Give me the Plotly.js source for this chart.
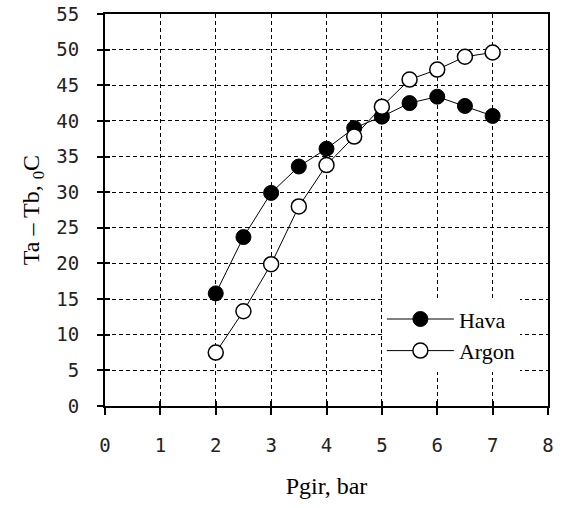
<!DOCTYPE html>
<html>
<head>
<meta charset="utf-8">
<script src="https://cdn.plot.ly/plotly-3.0.1.min.js"></script>
<style>html,body{margin:0;padding:0;background:#fff;}#chart{width:564px;height:508px;}</style>
</head>
<body>
<div id="chart"></div>
<script>
var pressure = [2, 2.5, 3, 3.5, 4, 4.5, 5, 5.5, 6, 6.5, 7];
var hava = [15.8, 23.7, 29.9, 33.6, 36.1, 39.0, 40.6, 42.5, 43.4, 42.1, 40.7];
var argon = [7.5, 13.3, 19.9, 28.0, 33.8, 37.8, 42.0, 45.8, 47.2, 49.0, 49.6];
var seriesNames = ['Hava', 'Argon'];
var xTitle = 'Pgir, bar';
var yTitle = 'Ta \u2013 Tb, <sub>0</sub>C';

var tickFont = {family: 'DejaVu Sans Mono', size: 19, color: '#222'};
var serif = 'Liberation Serif';

var traces = [
  {x: pressure, y: hava, name: seriesNames[0], type: 'scatter', mode: 'lines+markers',
   line: {color: '#000', width: 1},
   marker: {symbol: 'circle', size: 15, color: '#000', line: {color: '#000', width: 1}}},
  {x: pressure, y: argon, name: seriesNames[1], type: 'scatter', mode: 'lines+markers',
   line: {color: '#000', width: 1},
   marker: {symbol: 'circle', size: 15, color: '#fff', line: {color: '#000', width: 1.5}}},
  {x: [0], y: [0], xaxis: 'x2', yaxis: 'y2', showlegend: false, hoverinfo: 'skip',
   mode: 'markers', marker: {opacity: 0}}
];

var layout = {
  width: 564, height: 508,
  margin: {l: 105, r: 16, t: 14, b: 102},
  paper_bgcolor: '#fff', plot_bgcolor: '#fff',
  showlegend: true,
  legend: {x: 0.625, y: 0.275, xanchor: 'left', yanchor: 'top',
    bgcolor: '#fff', borderwidth: 0, itemwidth: 67,
    font: {family: serif, size: 22, color: '#000'}, tracegroupgap: 0},
  xaxis: {range: [0, 8], dtick: 1, tick0: 0, showgrid: true,
    gridcolor: '#000', gridwidth: 1, griddash: '4px,3px',
    showline: true, linecolor: '#000', linewidth: 2, mirror: true,
    ticks: 'outside', ticklen: 7, tickcolor: '#000', tickwidth: 2,
    zeroline: false, tickfont: tickFont, ticklabelstandoff: 14,
    title: {text: xTitle, font: {family: serif, size: 24, color: '#000'}, standoff: 22}},
  yaxis: {range: [0, 55], dtick: 5, tick0: 0, showgrid: true,
    gridcolor: '#000', gridwidth: 1, griddash: '4px,3px',
    showline: true, linecolor: '#000', linewidth: 2, mirror: true,
    ticks: 'outside', ticklen: 6, tickcolor: '#000', tickwidth: 2,
    zeroline: false, tickfont: tickFont, ticklabelstandoff: 14,
    title: {text: yTitle, font: {family: serif, size: 24, color: '#000'}, standoff: 10}},
  xaxis2: {overlaying: 'x', range: [0, 8], dtick: 1, showgrid: false, zeroline: false,
    ticks: 'inside', ticklen: 5, tickwidth: 2, tickcolor: '#000', showticklabels: false, side: 'bottom'},
  yaxis2: {overlaying: 'y', range: [0, 55], dtick: 5, showgrid: false, zeroline: false,
    ticks: 'inside', ticklen: 5, tickwidth: 2, tickcolor: '#000', showticklabels: false, side: 'left'}
};

Plotly.newPlot('chart', traces, layout, {displayModeBar: false, staticPlot: true});
</script>
</body>
</html>
